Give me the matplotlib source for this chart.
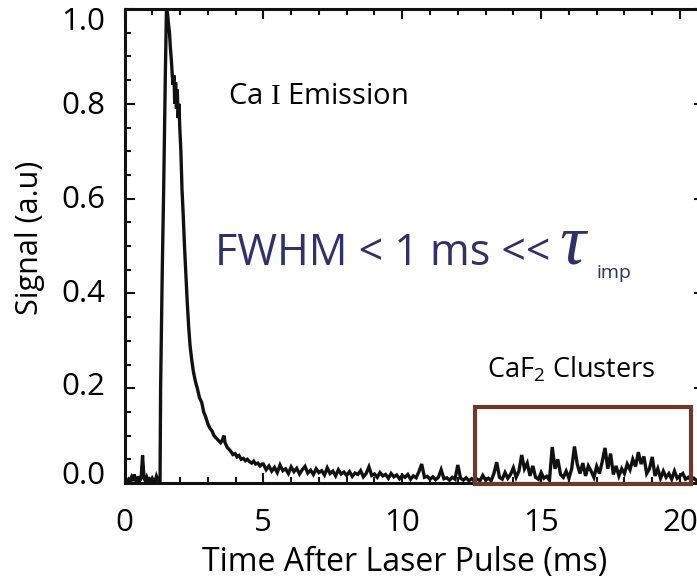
import numpy as np
import matplotlib
matplotlib.use("Agg")
import matplotlib.pyplot as plt
from matplotlib.patches import Rectangle
from matplotlib.ticker import MultipleLocator
import matplotlib.transforms as mtransforms

plt.rcParams['font.family'] = ['Open Sans', 'DejaVu Sans']
plt.rcParams['mathtext.fontset'] = 'custom'
plt.rcParams['mathtext.rm'] = 'Liberation Serif'
plt.rcParams['mathtext.sf'] = 'Open Sans'

# ---------------- data ----------------
# pre-pulse baseline, 0.00 .. 1.25 ms (0.05 ms steps)
time_pre = np.round(np.arange(0.0, 1.26, 0.05), 3)
signal_pre = [0.004, 0.006, 0.003, 0.008, 0.005, 0.012, 0.004, 0.018, 0.006, 0.004,
              0.014, 0.005, 0.010, 0.058, 0.012, 0.004, 0.012, 0.003, 0.008, 0.004,
              0.010, 0.005, 0.003, 0.014, 0.006, 0.004]

# laser-induced Ca I emission peak
time_peak = [1.28, 1.30, 1.36, 1.41, 1.47, 1.51, 1.55, 1.58, 1.62, 1.65, 1.69, 1.72,
             1.75, 1.78, 1.81, 1.84, 1.87, 1.90, 1.93, 1.96, 1.99, 2.03, 2.07, 2.11,
             2.16, 2.21, 2.26, 2.31, 2.36, 2.42, 2.48, 2.55, 2.62]
signal_peak = [0.005, 0.20, 0.45, 0.62, 0.86, 1.00, 0.99, 0.97, 0.95, 0.92, 0.89, 0.86,
               0.84, 0.86, 0.80, 0.845, 0.79, 0.83, 0.77, 0.80, 0.75, 0.70, 0.62, 0.57,
               0.50, 0.44, 0.38, 0.33, 0.29, 0.26, 0.235, 0.215, 0.20]

# decay 2.70 .. 4.95 ms
time_decay = [2.70, 2.78, 2.85, 2.92, 3.00, 3.08, 3.15, 3.22, 3.30, 3.38, 3.46, 3.52,
              3.58, 3.62, 3.70, 3.78, 3.85, 3.90, 3.98, 4.05, 4.12, 4.20, 4.28, 4.35,
              4.42, 4.50, 4.58, 4.65, 4.72, 4.80, 4.88, 4.95]
signal_decay = [0.18, 0.17, 0.15, 0.14, 0.125, 0.115, 0.11, 0.10, 0.095, 0.09, 0.085, 0.09,
                0.10, 0.085, 0.075, 0.07, 0.065, 0.06, 0.062, 0.055, 0.058, 0.05, 0.052, 0.047,
                0.05, 0.045, 0.042, 0.046, 0.040, 0.042, 0.036, 0.040]

# slow tail 5.0 .. 12.6 ms (0.1 ms steps)
time_tail = np.round(np.arange(5.0, 12.65, 0.1), 2)
signal_tail = [0.040, 0.028, 0.036, 0.025, 0.033, 0.022, 0.038, 0.026, 0.030, 0.020, 0.034,
               0.024, 0.031, 0.019, 0.028, 0.035, 0.021, 0.027, 0.018, 0.030, 0.022,
               0.026, 0.017, 0.032, 0.020, 0.025, 0.015, 0.028, 0.019, 0.023, 0.016,
               0.024, 0.014, 0.021, 0.018, 0.026, 0.013, 0.020, 0.034, 0.016, 0.019,
               0.012, 0.022, 0.015, 0.018, 0.010, 0.020, 0.013, 0.017, 0.009, 0.016,
               0.012, 0.018, 0.008, 0.015, 0.011, 0.024, 0.040, 0.012, 0.014, 0.008,
               0.013, 0.007, 0.012, 0.028, 0.009, 0.011, 0.006, 0.012, 0.008, 0.038,
               0.010, 0.006, 0.011, 0.005, 0.009, 0.004]

# CaF2 cluster region 12.7 .. 20.6 ms (0.1 ms steps)
time_clusters = np.round(np.arange(12.7, 20.65, 0.1), 2)
signal_clusters = [0.008, 0.005, 0.016, 0.006, 0.010, 0.005, 0.020, 0.044, 0.012, 0.008,
                   0.022, 0.010, 0.018, 0.032, 0.012, 0.025, 0.059, 0.030, 0.042, 0.015,
                   0.036, 0.012, 0.008, 0.022, 0.010, 0.014, 0.006, 0.076, 0.030, 0.050,
                   0.018, 0.012, 0.025, 0.010, 0.030, 0.077, 0.040, 0.020, 0.042, 0.015,
                   0.036, 0.025, 0.012, 0.035, 0.020, 0.045, 0.074, 0.030, 0.062, 0.018,
                   0.036, 0.015, 0.030, 0.020, 0.040, 0.028, 0.050, 0.035, 0.065, 0.040,
                   0.056, 0.020, 0.030, 0.055, 0.015, 0.030, 0.010, 0.025, 0.012, 0.020,
                   0.008, 0.025, 0.010, 0.015, 0.020, 0.008, 0.012, 0.006, 0.010, 0.005]

box_t0, box_t1 = 12.63, 20.40
box_y0, box_y1 = -0.002, 0.160

x_ticks = [0, 5, 10, 15, 20]
y_ticks = [0.0, 0.2, 0.4, 0.6, 0.8, 1.0]
y_ticklabels = ['0.0', '0.2', '0.4', '0.6', '0.8', '1.0']

# ---------------- figure ----------------
W, H = 697, 581
fig = plt.figure(figsize=(W / 100, H / 100), dpi=100)
left_px, right_px, top_px, bot_px = 124.5, 704, 9, 483
x_per_px = 20.0 / (680 - left_px)
ax = fig.add_axes([left_px / W, 1 - bot_px / H, (right_px - left_px) / W, (bot_px - top_px) / H])

t = np.concatenate([time_pre, time_peak, time_decay, time_tail, time_clusters])
s = np.concatenate([signal_pre, signal_peak, signal_decay, signal_tail, signal_clusters])
ax.plot(t, s, color='#111111', lw=2.4, solid_joinstyle='miter')

ax.add_patch(Rectangle((box_t0, box_y0), box_t1 - box_t0, box_y1 - box_y0,
                       fill=False, edgecolor='#6b3a2b', lw=3.0, clip_on=False, zorder=4))

ax.set_xlim(0, (right_px - left_px) * x_per_px)
ax.set_ylim(0, 1.0)
ax.set_xticks(x_ticks)
ax.set_yticks(y_ticks)
ax.set_yticklabels(y_ticklabels)
ax.xaxis.set_minor_locator(MultipleLocator(1))
ax.yaxis.set_minor_locator(MultipleLocator(0.05))
ax.tick_params(which='both', direction='in', top=True, right=True, width=1.5, color='#111111')
ax.tick_params(which='major', length=7.5, labelsize=22.5)
ax.tick_params(which='minor', length=4.0)
ax.tick_params(axis='x', pad=18)
ax.tick_params(axis='y', pad=14)
for sp in ax.spines.values():
    sp.set_linewidth(2.2)
    sp.set_color('#111111')

# tick-label vertical offsets seen in the reference (px, downward)
y_offsets = [-11, -5, -3, -2, -1, 9]
for lab, dy in zip(ax.get_yticklabels(), y_offsets):
    lab.set_transform(lab.get_transform() +
                      mtransforms.ScaledTranslation(0, -dy / 100, fig.dpi_scale_trans))

def px(x, y):
    return x / W, 1 - y / H

fig.text(*px(405, 562), 'Time After Laser Pulse (ms)', fontsize=23, ha='center', va='center')
fig.text(*px(30, 238), 'Signal (a.u)', fontsize=22, rotation=90, ha='center', va='center')

fig.text(*px(228, 104), r'Ca $\mathrm{I}$ Emission', fontsize=21, ha='left', va='baseline')
fig.text(*px(487, 377), r'CaF$_\mathsf{2}$ Clusters', fontsize=19.5, ha='left', va='baseline')

navy = '#2d3170'
fig.text(*px(215, 265), 'FWHM < 1 ms <<', fontsize=31, ha='left', va='baseline', color=navy)
fig.text(*px(559, 264), '\u03c4', fontsize=52, ha='left', va='baseline', color=navy,
         family=['Liberation Serif'], style='italic')
fig.text(*px(596, 278), 'imp', fontsize=14, ha='left', va='baseline', color=navy)

fig.savefig('out.png', dpi=100)
